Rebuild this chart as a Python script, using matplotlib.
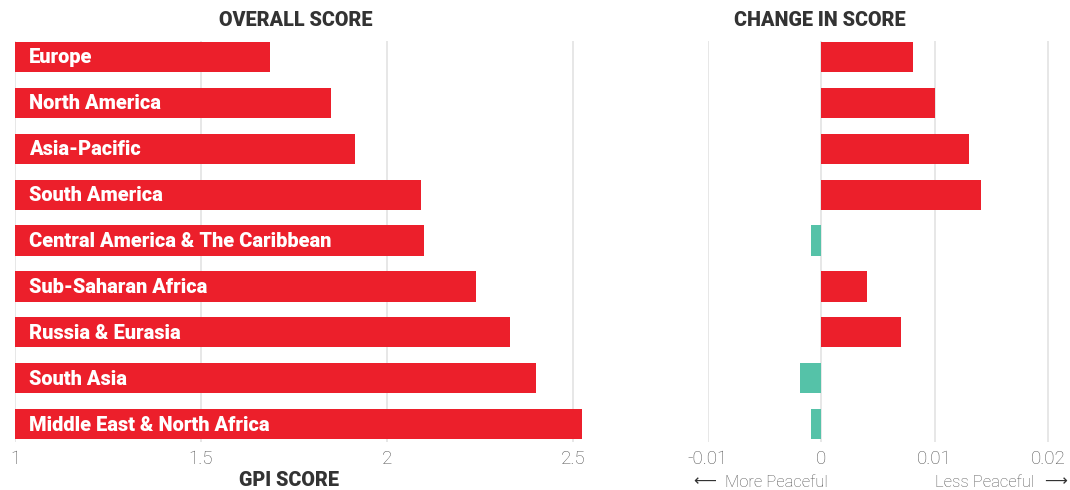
import matplotlib
matplotlib.use("Agg")
import matplotlib.pyplot as plt
import numpy as np

regions = [
    "Europe",
    "North America",
    "Asia-Pacific",
    "South America",
    "Central America & The Caribbean",
    "Sub-Saharan Africa",
    "Russia & Eurasia",
    "South Asia",
    "Middle East & North Africa",
]
overall_score = [1.685, 1.849, 1.914, 2.091, 2.099, 2.238, 2.331, 2.400, 2.523]
score_change = [0.0081, 0.0100, 0.0130, 0.0141, -0.0009, 0.0040, 0.0070, -0.0019, -0.0009]

score_ticks = [1, 1.5, 2, 2.5]
change_ticks = [-0.01, 0, 0.01, 0.02]
change_ticklabels = ["-0.01", "0", "0.01", "0.02"]

RED = "#EC1F2B"
TEAL = "#55C2A8"
GRID = "#E3E3E3"
DARK = "#333333"
TICK = "#555555"

plt.rcParams["font.family"] = ["Roboto", "DejaVu Sans"]

W, H = 1070, 490
fig = plt.figure(figsize=(W / 100, H / 100), dpi=100)


def px_axes(x0, x1, y0, y1):
    return fig.add_axes([x0 / W, 1 - y1 / H, (x1 - x0) / W, (y1 - y0) / H])


y = np.arange(len(regions))
bar_h = 0.66
ylim = (8.39, -0.35)

# Overall score panel
ax1 = px_axes(15, 588, 41, 442)
ax1.barh(y, np.array(overall_score) - 1, left=1, height=bar_h, color=RED, zorder=2)
ax1.set_xlim(1, 2.54)
ax1.set_ylim(*ylim)
for i, name in enumerate(regions):
    ax1.text(1.038, i + 0.02, name, color="white", fontsize=14.4, fontweight="heavy",
             va="center", ha="left", zorder=3)

# Change in score panel
ax2 = px_axes(707.6, 1054, 41, 442)
colors = [RED if v > 0 else TEAL for v in score_change]
ax2.barh(y, score_change, height=bar_h, color=colors, zorder=2)
ax2.set_xlim(-0.01, 0.0205)
ax2.set_ylim(*ylim)

for ax, ticks in ((ax1, score_ticks), (ax2, change_ticks)):
    ax.set_xticks(ticks)
    ax.set_yticks([])
    ax.grid(axis="x", color=GRID, linewidth=1.2, zorder=0)
    for s in ax.spines.values():
        s.set_visible(False)
    ax.tick_params(axis="x", length=0, pad=6, labelsize=13.5, labelcolor=TICK)
    for lab in ax.get_xticklabels():
        lab.set_fontweight("light")

ax1.set_xticklabels([f"{t:g}" for t in score_ticks])
ax2.set_xticklabels(change_ticklabels)

head = dict(ha="center", va="center", fontsize=14.2, fontweight="heavy", color=DARK)
fig.text(296 / W, 1 - 21 / H, "OVERALL SCORE", **head)
fig.text(820 / W, 1 - 21 / H, "CHANGE IN SCORE", **head)
fig.text(289 / W, 1 - 480 / H, "GPI SCORE", **head)

note = dict(va="center", fontsize=12, fontweight="light", color=TICK)
arrow = dict(va="center", fontsize=11.5, family="DejaVu Sans", color=DARK)
fig.text(693 / W, 1 - 482 / H, "\u27f5", ha="left", **arrow)
fig.text(725 / W, 1 - 482 / H, "More Peaceful", ha="left", **note)
fig.text(1034 / W, 1 - 482 / H, "Less Peaceful", ha="right", **note)
fig.text(1067 / W, 1 - 482 / H, "\u27f6", ha="right", **arrow)

fig.savefig("out.png", dpi=100)
